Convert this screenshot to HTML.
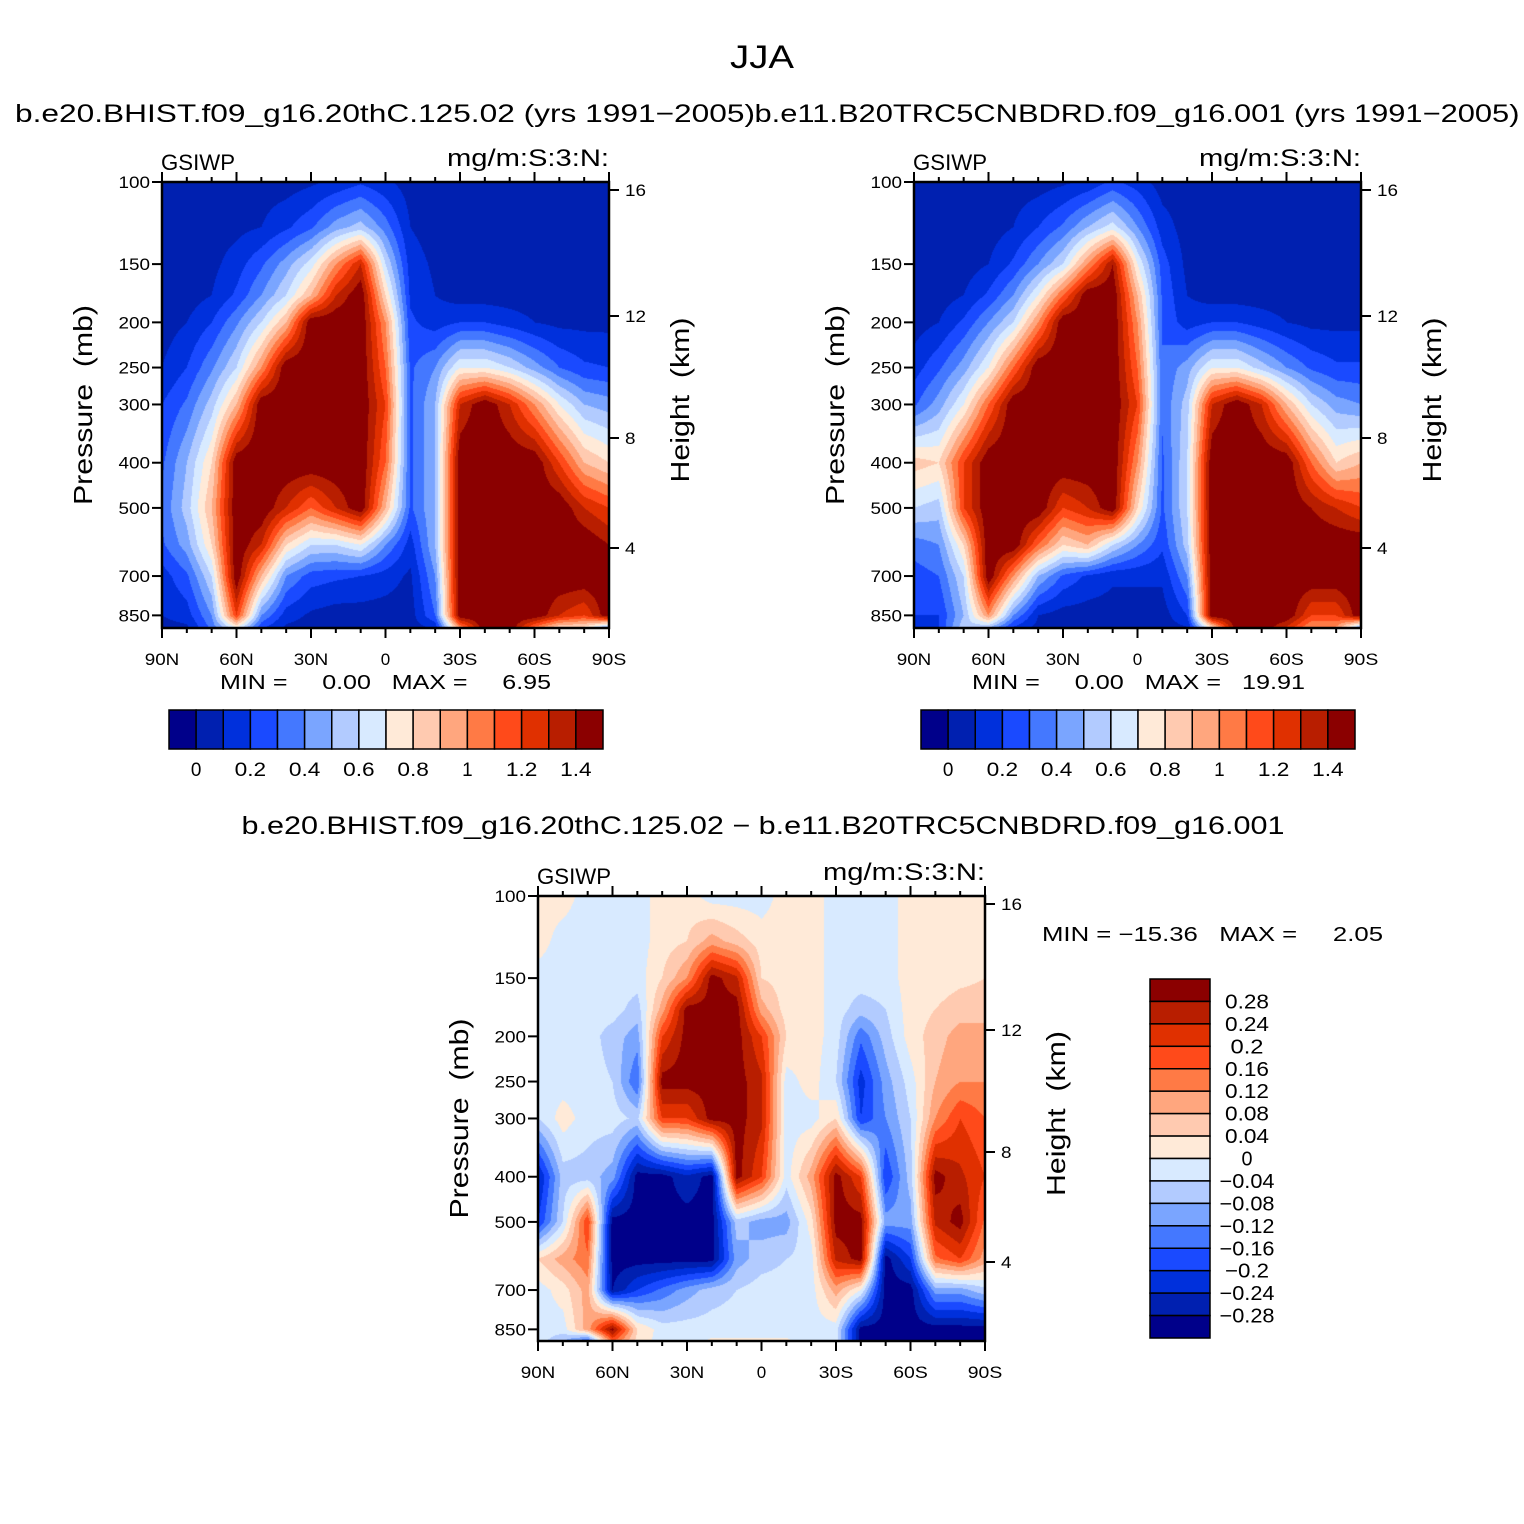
<!DOCTYPE html>
<html><head><meta charset="utf-8"><style>
html,body{margin:0;padding:0;background:#fff;}
#wrap{position:relative;width:1524px;height:1524px;}
canvas{position:absolute;}
svg{position:absolute;left:0;top:0;}
text{font-family:"Liberation Sans",sans-serif;fill:#000;white-space:pre;}
</style></head><body>
<div id="wrap">
<canvas id="c1" style="left:162px;top:182px" width="447" height="446"></canvas>
<canvas id="c2" style="left:914px;top:182px" width="447" height="446"></canvas>
<canvas id="c3" style="left:538px;top:896px" width="447" height="445"></canvas>
<svg id="svg" width="1524" height="1524"></svg>
</div>
<script>
const colors=["#00008a","#0020b0","#0030dc","#1a4aff","#4478ff","#7aa5ff","#b2cbff","#d8eaff","#ffead8","#ffcab0","#ffa67e","#ff7a45","#ff4a1a","#e03000","#b81e00","#8b0000"];
const levelsAbs=[0,0.1,0.2,0.3,0.4,0.5,0.6,0.7,0.8,0.9,1.0,1.1,1.2,1.3,1.4];
const levelsDiff=[-0.28,-0.24,-0.2,-0.16,-0.12,-0.08,-0.04,0,0.04,0.08,0.12,0.16,0.2,0.24,0.28];
const lats=[90,80,70,60,50,40,30,20,10,0,-10,-20,-30,-40,-50,-60,-70,-80,-90];
const pres=[100,125,150,175,200,250,300,400,500,600,700,850,925];
const latTicks=["90N","60N","30N","0","30S","60S","90S"];
const presTicks=[100,150,200,250,300,400,500,700,850];
const hgtTicks=[16,12,8,4];
const field1=[
[.05,.05,.05,.05,.05,.05,.08,.12,.18,.12,.05,.05,.05,.05,.05,.05,.05,.05,.05],
[.05,.05,.05,.07,.1,.18,.28,.45,.55,.35,.1,.05,.05,.05,.05,.05,.05,.05,.05],
[.05,.05,.07,.15,.28,.45,.65,1.0,1.3,.6,.15,.08,.05,.05,.05,.05,.05,.05,.05],
[.05,.05,.1,.22,.4,.6,.9,1.3,1.5,.8,.18,.1,.05,.05,.05,.05,.05,.05,.05],
[.05,.1,.2,.38,.6,.9,1.5,1.5,1.5,1.0,.22,.15,.2,.2,.15,.1,.07,.07,.07],
[.1,.2,.38,.6,1.0,1.5,1.5,1.5,1.5,1.1,.28,.4,.7,.7,.6,.45,.3,.22,.2],
[.2,.32,.55,.9,1.5,1.5,1.5,1.5,1.5,1.2,.28,.5,1.3,1.5,1.3,1.0,.7,.5,.45],
[.28,.5,.8,1.5,1.5,1.5,1.5,1.5,1.5,1.1,.28,.5,1.5,1.5,1.5,1.5,1.2,.9,.8],
[.32,.55,.9,1.5,1.5,1.3,1.1,1.3,1.5,.9,.28,.5,1.5,1.5,1.5,1.5,1.5,1.3,1.2],
[.28,.45,.8,1.5,1.3,.8,.6,.6,.7,.4,.15,.5,1.5,1.5,1.5,1.5,1.5,1.5,1.4],
[.15,.28,.6,1.5,.9,.4,.25,.22,.2,.15,.08,.4,1.5,1.5,1.5,1.5,1.5,1.5,1.5],
[.1,.15,.4,1.2,.4,.15,.08,.05,.05,.05,.05,.3,1.5,1.5,1.5,1.5,1.3,1.2,1.5],
[.05,.05,.3,.5,.15,.05,.05,.05,.05,.05,.05,.05,.8,1.5,1.5,.9,.6,.6,.0]];
const field2=[
[.05,.05,.05,.05,.05,.05,.08,.12,.22,.15,.05,.05,.05,.05,.05,.05,.05,.05,.05],
[.05,.05,.05,.05,.1,.2,.32,.5,.65,.4,.15,.05,.05,.05,.05,.05,.05,.05,.05],
[.05,.05,.05,.1,.22,.4,.6,1.0,1.4,.7,.25,.07,.05,.05,.05,.05,.05,.05,.05],
[.05,.05,.1,.22,.4,.7,1.1,1.5,1.5,.9,.28,.1,.05,.05,.05,.05,.05,.05,.05],
[.05,.1,.22,.4,.6,1.0,1.5,1.5,1.5,1.0,.28,.15,.2,.2,.15,.1,.07,.07,.07],
[.15,.28,.45,.7,1.1,1.5,1.5,1.5,1.5,1.1,.32,.45,.7,.7,.55,.4,.28,.22,.22],
[.28,.45,.7,1.1,1.5,1.5,1.5,1.5,1.5,1.2,.32,.55,1.3,1.5,1.3,.9,.6,.45,.4],
[.85,.8,1.2,1.5,1.5,1.5,1.5,1.5,1.5,1.0,.28,.6,1.5,1.5,1.5,1.5,1.1,.8,.9],
[.6,.55,1.2,1.5,1.5,1.5,1.2,1.3,1.5,.8,.28,.6,1.5,1.5,1.5,1.5,1.4,1.3,1.2],
[.35,.4,.8,1.5,1.5,1.1,.8,.9,.6,.4,.22,.55,1.5,1.5,1.5,1.5,1.5,1.5,1.5],
[.25,.3,.6,1.5,1.0,.5,.28,.18,.12,.12,.12,.4,1.5,1.5,1.5,1.5,1.5,1.5,1.5],
[.2,.2,.5,1.0,.4,.1,.05,.05,.05,.05,.05,.2,1.5,1.5,1.5,1.5,1.2,1.2,1.5],
[.1,.2,.6,.3,.1,.05,.05,.05,.05,.05,.05,.05,.5,1.5,1.5,1.2,.9,.9,.0]];
const field3=[
[.02,.02,-.02,-.02,-.02,.02,.02,-.02,-.02,-.02,.02,.02,-.02,-.02,-.02,.02,.02,.02,.02],
[.02,-.02,-.02,-.02,-.02,.02,.04,.1,.06,.02,.02,.02,-.02,-.02,-.02,.02,.02,.02,.02],
[-.02,-.02,-.02,-.02,-.02,.04,.12,.3,.25,.04,.02,.02,-.02,-.02,-.02,.02,.02,.03,.04],
[-.02,-.02,-.02,-.02,-.06,.1,.3,.3,.3,.1,.02,.02,-.02,-.06,-.04,.02,.04,.06,.06],
[-.02,-.02,-.02,-.06,-.1,.2,.3,.3,.3,.2,.04,.02,-.02,-.15,-.06,.02,.06,.1,.1],
[-.02,-.02,-.02,-.04,-.16,.3,.3,.3,.3,.25,-.02,.02,-.04,-.22,-.1,-.02,.08,.12,.12],
[-.04,.02,-.02,-.02,-.05,.2,.2,.3,.3,.25,-.02,-.02,.04,-.2,-.12,-.04,.12,.2,.16],
[-.25,-.06,-.06,-.1,-.3,-.3,-.25,-.3,.3,.2,-.02,.1,.3,.2,-.2,-.06,.3,.25,.2],
[-.2,-.04,.2,-.3,-.3,-.3,-.3,-.3,-.06,-.1,-.1,.02,.3,.3,-.1,-.1,.25,.3,.15],
[.04,.1,.15,-.3,-.3,-.3,-.3,-.3,-.1,-.06,-.04,-.02,.25,.3,-.3,-.2,.15,.2,.1],
[-.02,.02,.1,-.28,-.2,-.15,-.1,-.06,-.04,-.02,-.02,-.02,.1,0,-.3,-.3,-.1,-.1,-.05],
[-.02,-.02,.1,.3,.04,-.02,-.02,-.02,-.02,-.02,-.02,-.02,-.02,-.3,-.3,-.3,-.3,-.3,-.3],
[-.02,-.1,-.3,.1,.02,-.02,-.02,.02,.02,.02,.02,-.02,-.02,-.3,-.3,-.3,-.3,-.3,-.3]];

const K=202.5;
function yOfP(p){return K*Math.log(p/100);}
function pOfY(y){return 100*Math.exp(y/K);}
const hgtPix=[8,134,256,366];
function hexRGB(h){return [parseInt(h.substr(1,2),16),parseInt(h.substr(3,2),16),parseInt(h.substr(5,2),16)];}
const rgb=colors.map(hexRGB);
function sample(f,fx,p){
  const lp=Math.log(p);let r=0;
  while(r<pres.length-2&&Math.log(pres[r+1])<lp)r++;
  let ty=(lp-Math.log(pres[r]))/(Math.log(pres[r+1])-Math.log(pres[r]));ty=Math.max(0,Math.min(1,ty));
  let c=Math.min(Math.floor(fx),lats.length-2);let tx=fx-c;
  const a=f[r][c]*(1-tx)+f[r][c+1]*tx, b=f[r+1][c]*(1-tx)+f[r+1][c+1]*tx;
  return a*(1-ty)+b*ty;
}
function draw(id,f,levels){
  const cv=document.getElementById(id),ctx=cv.getContext('2d');
  const W=cv.width,H=cv.height,img=ctx.createImageData(W,H);
  for(let y=0;y<H;y++){const p=pOfY(y+0.5);
    for(let x=0;x<W;x++){const fx=(x+0.5)/W*(lats.length-1);
      const v=sample(f,fx,p);let k=0;while(k<levels.length&&v>levels[k]+1e-9)k++;
      const c=rgb[k],i=(y*W+x)*4;img.data[i]=c[0];img.data[i+1]=c[1];img.data[i+2]=c[2];img.data[i+3]=255;}}
  ctx.putImageData(img,0,0);
}
draw('c1',field1,levelsAbs);draw('c2',field2,levelsAbs);draw('c3',field3,levelsDiff);

const svg=document.getElementById('svg');const NS="http://www.w3.org/2000/svg";
function el(t,a,txt){const e=document.createElementNS(NS,t);for(const k in a)e.setAttribute(k,a[k]);if(txt!==undefined)e.textContent=txt;svg.appendChild(e);return e;}
function txt(x,y,s,size,anchor,name,rot,len){const e=el('text',{x:x,y:y,'font-size':size,'text-anchor':anchor||'start'},s);
  if(rot)e.setAttribute('transform','rotate(-90 '+x+' '+y+')');
  if(len){e.setAttribute('textLength',len);e.setAttribute('lengthAdjust','spacingAndGlyphs');}
  
  return e;}
function line(x1,y1,x2,y2,w){return el('line',{x1:x1,y1:y1,x2:x2,y2:y2,stroke:'#000','stroke-width':w||2});}

function panel(x0,y0,W,H,pfx){
  const r=el('rect',{x:x0,y:y0,width:W,height:H,fill:'none',stroke:'#000','stroke-width':2.5});
  
  
  for(let i=0;i<=18;i++){const x=x0+W*i/18,maj=i%3==0,L=maj?10:5;
    line(x,y0,x,y0-L,2);line(x,y0+H,x,y0+H+L,2);}
  latTicks.forEach((s,i)=>{txt(x0+W*i/6,y0+H+37,s,17,'middle',pfx+'-lat-tick-label',false,s.length>1?s.length*11.5:0);});
  presTicks.forEach(p=>{const y=y0+yOfP(p);line(x0,y,x0-10,y,2);
    txt(x0-12,y+6,String(p),17,'end',pfx+'-pressure-tick-label',false,String(p).length*10.5);});
  hgtTicks.forEach((z,i)=>{const y=y0+hgtPix[i];line(x0+W,y,x0+W+10,y,2);
    txt(x0+W+16,y+6,String(z),17,'start',pfx+'-height-tick-label',false,String(z).length*10.5);});
  txt(x0-1,y0-12,'GSIWP',22,'start',pfx+'-variable-label',false,74);
  txt(x0+W,y0-16,'mg/m:S:3:N:',24,'end',pfx+'-units-label',false,162);
  txt(x0-70,y0+H/2,'Pressure  (mb)',26,'middle',pfx+'-y-axis-title',true,200);
  txt(x0+W+80,y0+H/2-5,'Height  (km)',26,'middle',pfx+'-right-axis-title',true,165);
}
panel(162,182,447,446,'panel1');
panel(914,182,447,446,'panel2');
panel(538,896,447,445,'panel3');

txt(762,68,'JJA',32,'middle','figure-title',false,64);
txt(385,122,'b.e20.BHIST.f09_g16.20thC.125.02 (yrs 1991\u22122005)',25,'middle','panel1-title',false,740);
txt(1137,122,'b.e11.B20TRC5CNBDRD.f09_g16.001 (yrs 1991\u22122005)',25,'middle','panel2-title',false,765);
txt(763,834,'b.e20.BHIST.f09_g16.20thC.125.02 \u2212 b.e11.B20TRC5CNBDRD.f09_g16.001',25,'middle','panel3-title',false,1043);
txt(220,689,'MIN =     0.00   MAX =     6.95',20,'start','panel1-min-max',false,331);
txt(972,689,'MIN =     0.00   MAX =   19.91',20,'start','panel2-min-max',false,333);
txt(1042,941,'MIN = \u221215.36   MAX =     2.05',20,'start','panel3-min-max',false,341);

const absLabels=["0","0.2","0.4","0.6","0.8","1","1.2","1.4"];
const diffLabels=["0.28","0.24","0.2","0.16","0.12","0.08","0.04","0","\u22120.04","\u22120.08","\u22120.12","\u22120.16","\u22120.2","\u22120.24","\u22120.28"];
function hbar(x0,y0,W,H,pfx){const bw=W/16;
  colors.forEach((c,i)=>{const r=el('rect',{x:x0+i*bw,y:y0,width:bw,height:H,fill:c,stroke:'#000','stroke-width':1.5});
    
    });
  absLabels.forEach((s,i)=>txt(x0+bw*(1+2*i),y0+H+27,s,19,'middle',pfx+'-colorbar-label',false,s.length*10.5));}
hbar(169,710,434,39,'panel1');hbar(921,710,434,39,'panel2');
(function(){const x0=1150,y0=979,W=60,H=359,bh=H/16;
  colors.slice().reverse().forEach((c,i)=>{const r=el('rect',{x:x0,y:y0+i*bh,width:W,height:bh,fill:c,stroke:'#000','stroke-width':1.5});
    
    });
  diffLabels.forEach((s,i)=>txt(1247,y0+bh*(i+1)+7,s,20,'middle','panel3-colorbar-label',false,s.length*11));})();
</script>
</body></html>
